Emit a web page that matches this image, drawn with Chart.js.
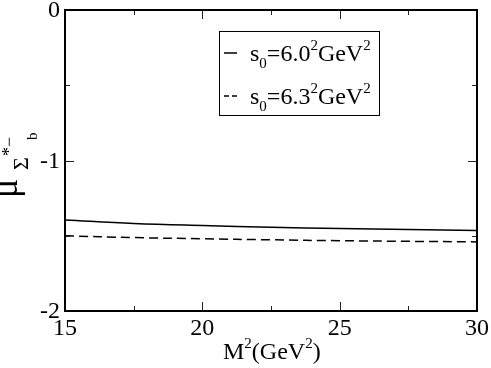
<!DOCTYPE html>
<html>
<head>
<meta charset="utf-8">
<script src="https://cdn.jsdelivr.net/npm/chart.js@4.4.1/dist/chart.umd.min.js"></script>
<style>
  html, body { margin: 0; padding: 0; background: #fff; }
  #wrap { width: 491px; height: 368px; position: relative; }
</style>
</head>
<body>
<div id="wrap"><canvas id="muChart"></canvas></div>
<script>
// M^2 values (GeV^2)
const m2 = [15, 17.5, 20, 22.5, 25, 27.5, 30];
// s0 = 6.0^2 GeV^2
const muS60 = [-1.395, -1.418, -1.432, -1.443, -1.452, -1.458, -1.465];
// s0 = 6.3^2 GeV^2
const muS63 = [-1.500, -1.512, -1.520, -1.527, -1.533, -1.537, -1.541];
const xTicks = [15, 20, 25, 30];
const yTicks = [0, -1, -2];

const serif = '"Liberation Serif", serif';
const big = '24px ' + serif;
const small = '15px ' + serif;

// inward ticks, tick labels, frame, axis titles and the legend box
const decorations = {
    id: 'decorations',
    afterDraw(chart) {
        const { ctx, chartArea: a, scales: { x, y } } = chart;
        ctx.save();
        ctx.strokeStyle = '#222';
        ctx.lineWidth = 1;
        // x ticks
        for (let v = 15; v <= 30; v += 2.5) {
            const px = Math.round(x.getPixelForValue(v)) + 0.5;
            const len = (v % 5 === 0) ? 9 : 5;
            ctx.beginPath();
            ctx.moveTo(px, a.bottom); ctx.lineTo(px, a.bottom - len);
            ctx.moveTo(px, a.top); ctx.lineTo(px, a.top + len);
            ctx.stroke();
        }
        // y ticks
        for (let v = 0; v >= -2; v -= 0.5) {
            const py = Math.round(y.getPixelForValue(v)) + 0.5;
            const len = (v % 1 === 0) ? 9 : 5;
            ctx.beginPath();
            ctx.moveTo(a.left, py); ctx.lineTo(a.left + len, py);
            ctx.moveTo(a.right, py); ctx.lineTo(a.right - len, py);
            ctx.stroke();
        }
        // frame
        ctx.strokeStyle = '#000';
        ctx.lineWidth = 2;
        ctx.strokeRect(a.left, a.top, a.right - a.left, a.bottom - a.top);

        ctx.fillStyle = '#000';
        ctx.font = big;
        // tick labels
        ctx.textAlign = 'right';
        ctx.textBaseline = 'middle';
        yTicks.forEach(v => ctx.fillText(String(v), a.left - 5, y.getPixelForValue(v) + 1));
        ctx.textAlign = 'center';
        ctx.textBaseline = 'alphabetic';
        xTicks.forEach(v => ctx.fillText(String(v), x.getPixelForValue(v), a.bottom + 24));
        ctx.textAlign = 'left';

        // x axis title M^2(GeV^2)
        let cx = 223, by = 359;
        ctx.font = big;
        ctx.fillText('M', cx, by); cx += ctx.measureText('M').width;
        ctx.font = small;
        ctx.fillText('2', cx, by - 11); cx += ctx.measureText('2').width;
        ctx.font = big;
        ctx.fillText('(GeV', cx, by); cx += ctx.measureText('(GeV').width;
        ctx.font = small;
        ctx.fillText('2', cx, by - 11); cx += ctx.measureText('2').width;
        ctx.font = big;
        ctx.fillText(')', cx, by);

        // y axis title, rotated (text x runs up the page)
        ctx.save();
        ctx.translate(17, 198);
        ctx.rotate(-Math.PI / 2);
        ctx.font = '36px ' + serif;
        ctx.fillText('\u03bc', 0, 0);
        ctx.font = '22px ' + serif;
        ctx.fillText('\u03a3', 28, 11);
        ctx.font = '18px ' + serif;
        ctx.fillText('*\u2212', 42, -2);
        ctx.font = '15px ' + serif;
        ctx.fillText('b', 58, 20);
        ctx.restore();

        // legend box
        ctx.lineWidth = 1;
        ctx.strokeRect(219.5, 31.5, 160, 84);
        const rows = [
            { label: '6.0', dash: [], y: 61 },
            { label: '6.3', dash: [5, 3], y: 104 }
        ];
        rows.forEach(r => {
            ctx.setLineDash(r.dash);
            ctx.lineWidth = 1.5;
            ctx.beginPath();
            ctx.moveTo(224, r.y - 8); ctx.lineTo(237, r.y - 8);
            ctx.stroke();
            ctx.setLineDash([]);
            let lx = 250, ly = r.y;
            ctx.font = big;
            ctx.fillText('s', lx, ly); lx += ctx.measureText('s').width;
            ctx.font = small;
            ctx.fillText('0', lx, ly + 7); lx += ctx.measureText('0').width;
            ctx.font = big;
            const main = '=' + r.label;
            ctx.fillText(main, lx, ly); lx += ctx.measureText(main).width;
            ctx.font = small;
            ctx.fillText('2', lx, ly - 11); lx += ctx.measureText('2').width;
            ctx.font = big;
            ctx.fillText('GeV', lx, ly); lx += ctx.measureText('GeV').width;
            ctx.font = small;
            ctx.fillText('2', lx, ly - 11);
        });
        ctx.restore();
    }
};

new Chart(document.getElementById('muChart'), {
    type: 'line',
    data: {
        labels: m2,
        datasets: [{
            label: 's0=6.0^2GeV^2',
            data: m2.map((v, i) => ({ x: v, y: muS60[i] })),
            borderColor: '#000',
            borderWidth: 1.5,
            pointRadius: 0,
            tension: 0.4,
            fill: false
        }, {
            label: 's0=6.3^2GeV^2',
            data: m2.map((v, i) => ({ x: v, y: muS63[i] })),
            borderColor: '#000',
            borderWidth: 1.5,
            borderDash: [9, 5],
            pointRadius: 0,
            tension: 0.4,
            fill: false
        }]
    },
    options: {
        responsive: true,
        maintainAspectRatio: false,
        animation: false,
        layout: { padding: { top: 10, right: 14, left: 0, bottom: 0 } },
        plugins: {
            legend: { display: false },
            tooltip: { enabled: false }
        },
        scales: {
            x: {
                type: 'linear',
                min: 15,
                max: 30,
                afterBuildTicks: s => { s.ticks = xTicks.map(v => ({ value: v })); },
                afterFit: s => { s.height = 57; },
                grid: { display: false },
                border: { display: false },
                ticks: { display: false }
            },
            y: {
                min: -2,
                max: 0,
                afterBuildTicks: s => { s.ticks = yTicks.map(v => ({ value: v })); },
                afterFit: s => { s.width = 65; },
                grid: { display: false },
                border: { display: false },
                ticks: { display: false }
            }
        }
    },
    plugins: [decorations]
});
</script>
</body>
</html>
